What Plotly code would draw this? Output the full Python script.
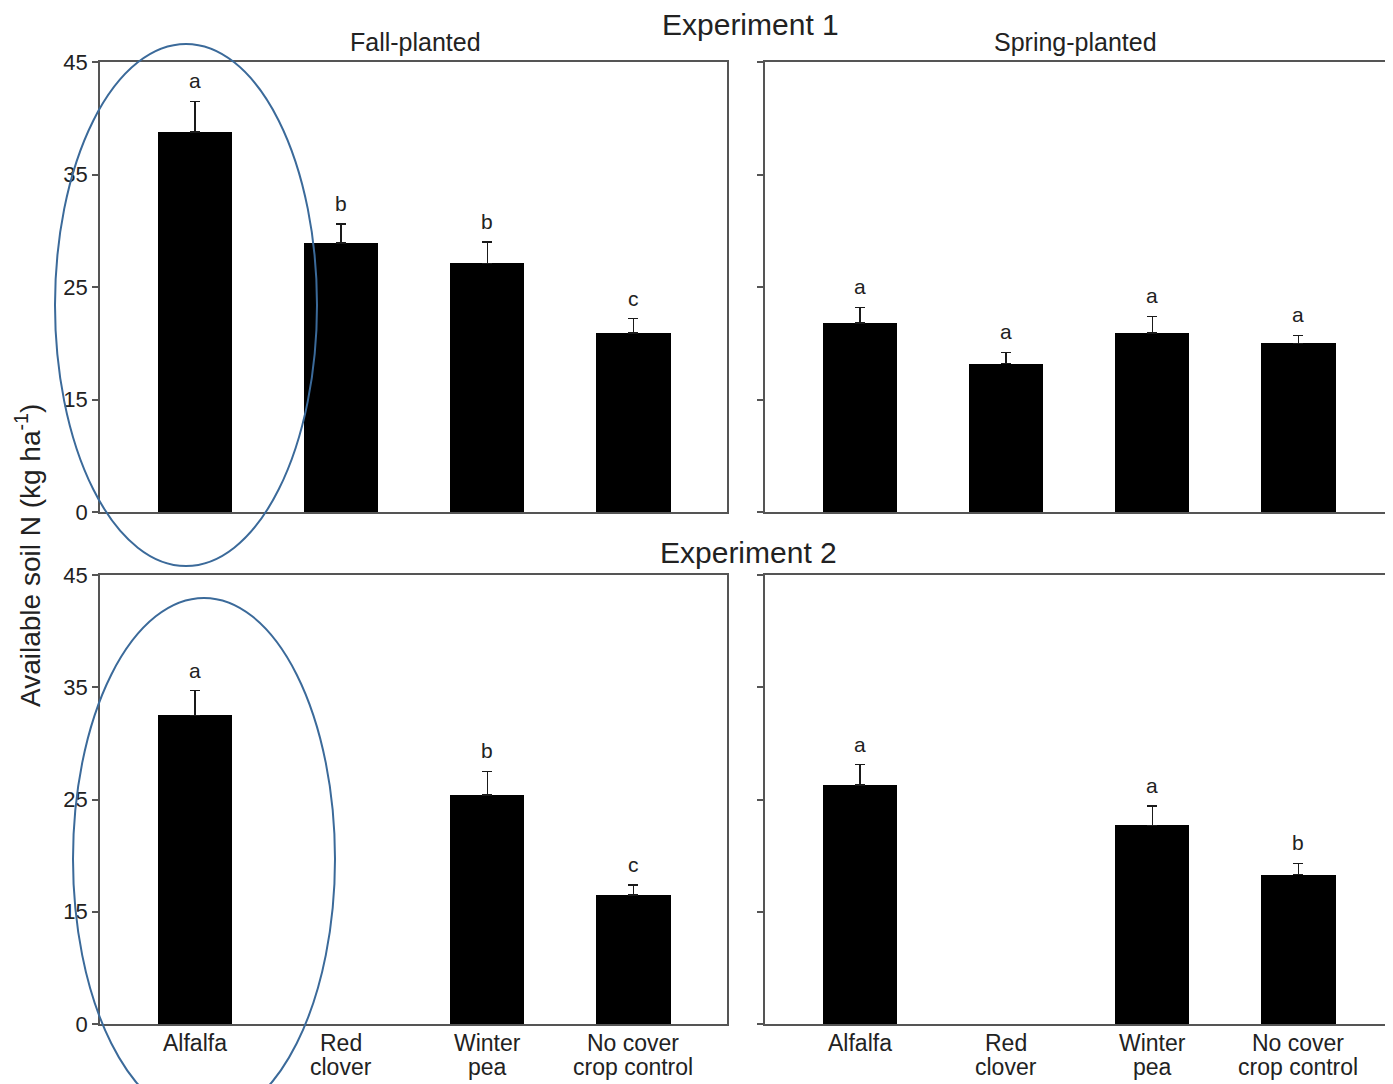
import plotly.graph_objects as go

W, H = 1393, 1084
OFF = 8  # page body margin offset

categories = ["Alfalfa", "Red<br>clover", "Winter<br>pea", "No cover<br>crop control"]

# Experiment 1
fall1 = [38.8, 28.9, 27.1, 20.9]
fall1_err = [2.7, 1.7, 1.9, 1.3]
fall1_let = ["a", "b", "b", "c"]
spring1 = [21.8, 18.2, 20.9, 20.0]
spring1_err = [1.4, 1.0, 1.5, 0.7]
spring1_let = ["a", "a", "a", "a"]

# Experiment 2
fall2 = [32.5, None, 25.4, 16.5]
fall2_err = [2.2, None, 2.1, 0.9]
fall2_let = ["a", "", "b", "c"]
spring2 = [26.3, None, 22.7, 18.3]
spring2_err = [1.8, None, 1.7, 1.0]
spring2_let = ["a", "", "a", "b"]

y_tickvals = [5, 15, 25, 35, 45]
y_ticktext = ["0", "15", "25", "35", "45"]

FONT = "Arial, Liberation Sans, sans-serif"
TXT = "#222222"
LINE = "#555555"
ELL = "#3b6a9a"

def px_x(p):
    return (p - OFF) / W

def px_y(p):
    return 1 - (p - OFF) / H

panels = [
    (fall1, fall1_err, fall1_let, "x", "y"),
    (spring1, spring1_err, spring1_let, "x2", "y2"),
    (fall2, fall2_err, fall2_let, "x3", "y3"),
    (spring2, spring2_err, spring2_let, "x4", "y4"),
]

fig = go.Figure()
annotations = []
xpos = list(range(len(categories)))

for vals, errs, lets, xa, ya in panels:
    fig.add_trace(go.Bar(
        x=xpos, y=vals, xaxis=xa, yaxis=ya, width=0.507,
        marker=dict(color="black", line=dict(color="black", width=0)),
        error_y=dict(type="data", array=errs, symmetric=False,
                     arrayminus=[0] * len(vals), color="#1a1a1a",
                     thickness=1.5, width=5),
        showlegend=False, hoverinfo="skip",
    ))
    for i, (v, e, l) in enumerate(zip(vals, errs, lets)):
        if v is None or not l:
            continue
        annotations.append(dict(
            x=i, y=v + e, xref=xa, yref=ya, text=l, showarrow=False,
            yanchor="bottom", yshift=7,
            font=dict(family=FONT, size=21, color=TXT),
        ))

# category labels (two lines, tight spacing) below the bottom panels
for xa in ["x3", "x4"]:
    for i, c in enumerate(categories):
        for k, line in enumerate(c.split("<br>")):
            annotations.append(dict(
                x=i, y=px_y(1043 + 24 * k), xref=xa, yref="paper", text=line,
                showarrow=False, xanchor="center", yanchor="middle",
                font=dict(family=FONT, size=23, color=TXT),
            ))

xl = [px_x(100), px_x(727)]
xr = [px_x(765), px_x(1392)]
yt = [px_y(512), px_y(62)]
yb = [px_y(1024), px_y(575)]

def xax(dom, anchor):
    return dict(domain=dom, anchor=anchor, range=[-0.65, 3.64],
                showline=True, linecolor=LINE, linewidth=1.5, mirror=True,
                ticks="", showgrid=False, zeroline=False, fixedrange=True,
                tickvals=xpos, showticklabels=False, automargin=False)

def yax(dom, anchor, labels):
    return dict(domain=dom, anchor=anchor, range=[5, 45],
                showline=True, linecolor=LINE, linewidth=1.5, mirror=True,
                ticks="outside", ticklen=6, tickcolor=LINE, tickwidth=1.5,
                tickvals=y_tickvals, ticktext=y_ticktext,
                showgrid=False, zeroline=False, fixedrange=True,
                showticklabels=labels, automargin=False,
                tickfont=dict(family=FONT, size=22, color=TXT))

titles = [
    ("Experiment 1", 750, 24, 30),
    ("Fall-planted", 415, 42, 25),
    ("Spring-planted", 1075, 42, 25),
    ("Experiment 2", 748, 552, 30),
]
for t, x, y, s in titles:
    annotations.append(dict(
        x=px_x(x), y=px_y(y), xref="paper", yref="paper", text=t,
        showarrow=False, xanchor="center", yanchor="middle",
        font=dict(family=FONT, size=s, color=TXT),
    ))

annotations.append(dict(
    x=px_x(28), y=px_y(556), xref="paper", yref="paper",
    text="Available soil N (kg ha<sup>-1</sup>)", textangle=-90,
    showarrow=False, xanchor="center", yanchor="middle",
    font=dict(family=FONT, size=28, color=TXT),
))

shapes = [
    dict(type="circle", xref="paper", yref="paper",
         x0=px_x(55), x1=px_x(317), y0=px_y(566), y1=px_y(44),
         line=dict(color=ELL, width=2), fillcolor="rgba(0,0,0,0)", layer="above"),
    dict(type="circle", xref="paper", yref="paper",
         x0=px_x(73), x1=px_x(335), y0=px_y(1120), y1=px_y(598),
         line=dict(color=ELL, width=2), fillcolor="rgba(0,0,0,0)", layer="above"),
]

fig.update_layout(
    width=W, height=H,
    margin=dict(l=0, r=0, t=0, b=0, autoexpand=False),
    paper_bgcolor="white", plot_bgcolor="white",
    xaxis=xax(xl, "y"),
    xaxis2=xax(xr, "y2"),
    xaxis3=xax(xl, "y3"),
    xaxis4=xax(xr, "y4"),
    yaxis=yax(yt, "x", True),
    yaxis2=yax(yt, "x2", False),
    yaxis3=yax(yb, "x3", True),
    yaxis4=yax(yb, "x4", False),
    annotations=annotations,
    shapes=shapes,
    bargap=0,
)

fig.write_html("out.html")
